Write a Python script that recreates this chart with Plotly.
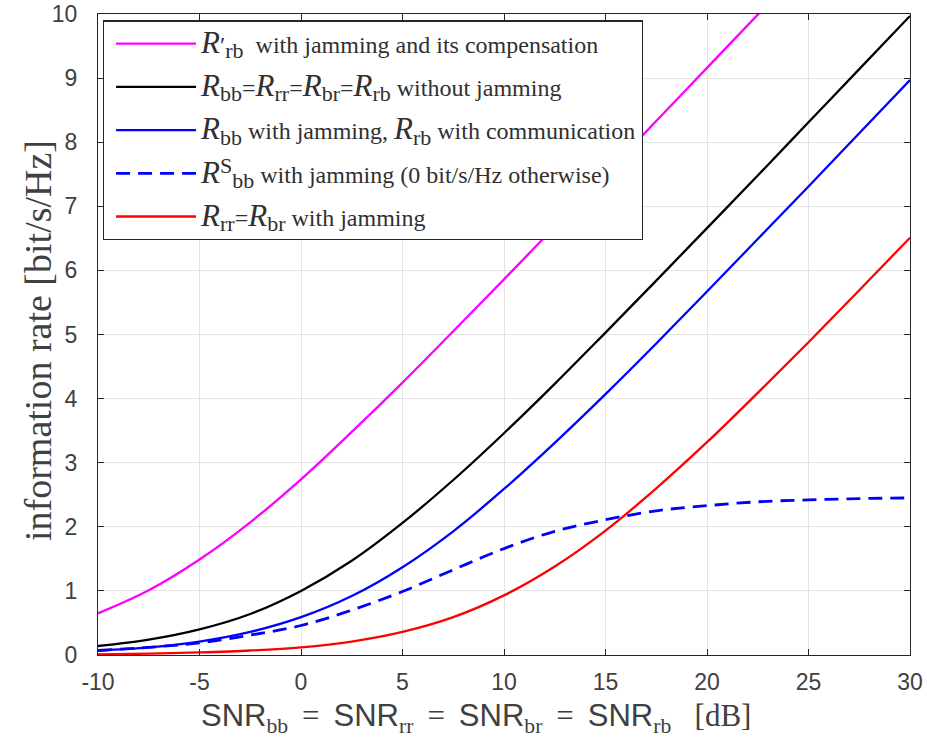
import plotly.graph_objects as go

snr_db = [-10, -7.5, -5, -2.5, 0, 2.5, 5, 7.5, 10, 12.5, 15, 17.5, 20, 22.5, 25, 27.5, 30]

r_comp = [0.65, 1.01, 1.49, 2.07, 2.74, 3.48, 4.25, 5.05, 5.86, 6.68, 7.50, 8.33, 9.16, 9.99, 10.82, 11.65, 12.48]
r_nojam = [0.14, 0.24, 0.40, 0.64, 1.00, 1.47, 2.06, 2.73, 3.46, 4.23, 5.03, 5.84, 6.66, 7.48, 8.31, 9.14, 9.97]
r_bb_jam = [0.07, 0.12, 0.21, 0.36, 0.59, 0.92, 1.37, 1.93, 2.59, 3.31, 4.07, 4.86, 5.67, 6.49, 7.31, 8.14, 8.97]
r_bb_s = [0.07, 0.12, 0.19, 0.31, 0.46, 0.70, 0.99, 1.33, 1.66, 1.93, 2.11, 2.25, 2.33, 2.39, 2.42, 2.44, 2.45]
r_rr_jam = [0.01, 0.02, 0.04, 0.07, 0.12, 0.21, 0.36, 0.59, 0.93, 1.38, 1.94, 2.60, 3.32, 4.09, 4.88, 5.69, 6.51]

x_ticks = [-10, -5, 0, 5, 10, 15, 20, 25, 30]
y_ticks = [0, 1, 2, 3, 4, 5, 6, 7, 8, 9, 10]

R = '<span style="font-size:31px"><i>R</i></span>'


def sb(t):
    return '<sub><span style="font-size:22px">' + t + '</span></sub>'


names = [
    R + '′' + sb('rb') + '  with jamming and its compensation',
    R + sb('bb') + '=' + R + sb('rr') + '=' + R + sb('br') + '=' + R + sb('rb') + ' without jamming',
    R + sb('bb') + ' with jamming, ' + R + sb('rb') + ' with communication',
    R + '<sup><span style="font-size:22px">S</span></sup>' + sb('bb') + ' with jamming (0 bit/s/Hz otherwise)',
    R + sb('rr') + '=' + R + sb('br') + ' with jamming',
]
series = [r_comp, r_nojam, r_bb_jam, r_bb_s, r_rr_jam]
colors = ['#ff00ff', '#000000', '#0000ff', '#0000ff', '#ff0000']
dashes = ['solid', 'solid', 'solid', '14px,8px', 'solid']

x_title = ('<span style="font-family:Liberation Sans">SNR</span><sub>bb</sub> \u2009=\u2009 '
           '<span style="font-family:Liberation Sans">SNR</span><sub>rr</sub> \u2009=\u2009 '
           '<span style="font-family:Liberation Sans">SNR</span><sub>br</sub> \u2009=\u2009 '
           '<span style="font-family:Liberation Sans">SNR</span><sub>rb</sub> \u2002[dB]')
y_title = 'information rate [bit/s/Hz]'

fig = go.Figure()
for i, (nm, ys, c, d) in enumerate(zip(names, series, colors, dashes)):
    fig.add_trace(go.Scatter(
        x=snr_db, y=ys, mode='lines', name=nm, legendgroup=f'g{i}',
        line=dict(color=c, width=2.3 if d == 'solid' else 2.8, dash=d, shape='spline', smoothing=1.0),
    ))

axis_common = dict(
    showline=True, mirror='ticks', linecolor='#262626', linewidth=1.2,
    ticks='inside', ticklen=6, tickcolor='#262626', tickwidth=1,
    showgrid=True, gridcolor='#e3e3e3', gridwidth=1, zeroline=False,
    tickfont=dict(family='Liberation Sans', size=23, color='#404040'),
    automargin=False,
)

fig.update_layout(
    width=927, height=748,
    margin=dict(l=98, r=17, t=14, b=93),
    paper_bgcolor='white', plot_bgcolor='white',
    showlegend=True,
    legend=dict(
        x=0.006, y=0.99, xanchor='left', yanchor='top',
        bgcolor='white', bordercolor='#262626', borderwidth=1.2,
        font=dict(family='Liberation Serif', size=24, color='#303030'),
        tracegroupgap=9, itemwidth=80, indentation=7, valign='middle',
    ),
    xaxis=dict(
        range=[-10, 30], tickvals=x_ticks, ticktext=[str(v) for v in x_ticks],
        ticklabelstandoff=6,
        **axis_common,
    ),
    yaxis=dict(
        range=[0, 10], tickvals=y_ticks, ticktext=[str(v) for v in y_ticks],
        ticklabelstandoff=15,
        **axis_common,
    ),
    annotations=[
        dict(text=x_title, xref='paper', yref='paper', x=0.4655, y=-0.098,
             xanchor='center', yanchor='middle', showarrow=False,
             font=dict(family='Liberation Serif', size=31, color='#404040')),
        dict(text=y_title, xref='paper', yref='paper', x=-0.073, y=0.491,
             xanchor='center', yanchor='middle', showarrow=False, textangle=-90,
             font=dict(family='Liberation Serif', size=38, color='#404040')),
    ],
)

fig.write_html('out.html', config={'displayModeBar': False},
               post_script="document.body.style.margin='0';")
